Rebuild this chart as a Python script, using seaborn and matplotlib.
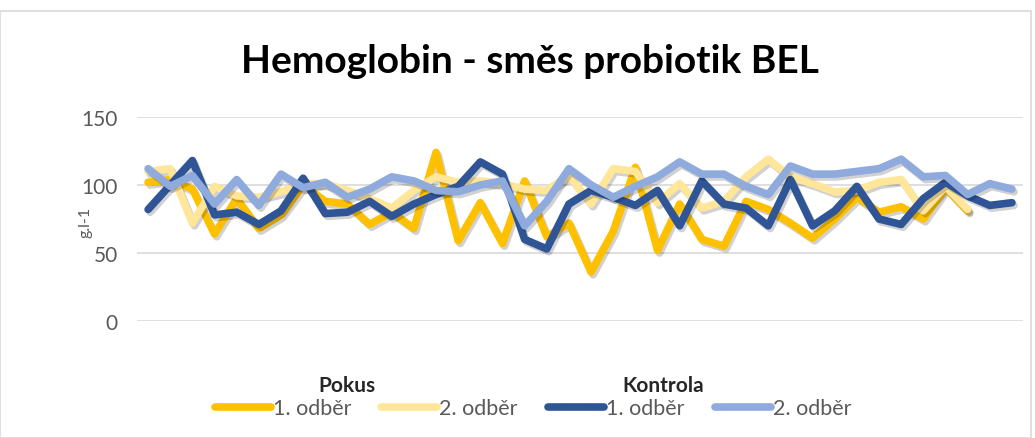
import numpy as np
import pandas as pd
import matplotlib
matplotlib.use("Agg")
import matplotlib.pyplot as plt
import matplotlib.patheffects as pe
from matplotlib.lines import Line2D
from matplotlib.patches import Rectangle
import seaborn as sns

# hodnoty (g/l), 40 zvirat
pokus_1 = [102, 104, 97, 64, 90, 68, 78, 100, 88, 86, 71, 80, 68, 124, 59, 87, 57, 103, 62, 72,
           36, 66, 113, 52, 86, 60, 55, 88, 82, 72, 61, 75, 91, 80, 84, 75, 98, 81]
pokus_2 = [110, 112, 72, 99, 92, 91, 95, 101, 101, 96, 90, 83, 96, 106, 102, 103, 101, 97, 96, 107,
           86, 112, 110, 87, 101, 83, 88, 106, 119, 106, 101, 95, 96, 102, 104, 81, 99, 82]
kontrola_1 = [82, 100, 118, 78, 80, 71, 81, 105, 79, 80, 88, 77, 86, 93, 99, 117, 108, 60, 53, 86,
              96, 91, 85, 96, 70, 103, 86, 83, 70, 104, 70, 81, 99, 75, 71, 90, 102, 92, 85, 87]
kontrola_2 = [112, 99, 107, 86, 104, 85, 108, 98, 102, 91, 97, 106, 103, 96, 95, 100, 103, 70, 88, 112,
              100, 91, 99, 106, 117, 108, 108, 99, 93, 114, 108, 108, 110, 112, 119, 106, 107, 93, 101, 97]

series = ["Pokus 1. odběr", "Pokus 2. odběr", "Kontrola 1. odběr", "Kontrola 2. odběr"]
colors = ["#FFC000", "#FFE699", "#2F5597", "#8FAADC"]
y_ticks = [0, 50, 100, 150]

frames = []
for name, vals in zip(series, [pokus_1, pokus_2, kontrola_1, kontrola_2]):
    frames.append(pd.DataFrame({"zvire": np.arange(len(vals)), "hodnota": vals, "serie": name}))
df = pd.concat(frames, ignore_index=True)

sns.set_style("white")
plt.rcParams["font.family"] = ["Lato", "DejaVu Sans"]

fig = plt.figure(figsize=(10.35, 4.39), dpi=100)
ax = fig.add_axes([0.1324, 0.2665, 0.856, 0.4647])

sns.lineplot(data=df, x="zvire", y="hodnota", hue="serie", hue_order=series,
             palette=colors, linewidth=5.5, ax=ax, legend=False, sort=False)
for ln in ax.get_lines():
    ln.set_solid_joinstyle("round")
    ln.set_solid_capstyle("round")
    ln.set_path_effects([pe.SimpleLineShadow(offset=(1.5, -2), shadow_color="#000000", alpha=0.18),
                         pe.Normal()])

ax.set_xlim(-0.5, 39.5)
ax.set_ylim(0, 150)
ax.set_yticks(y_ticks)
ax.set_xticks([])
ax.yaxis.grid(True, color="#D9D9D9", linewidth=1.2)
ax.set_axisbelow(True)
for s in ax.spines.values():
    s.set_visible(False)
ax.tick_params(axis="y", length=0, labelsize=15, labelcolor="#595959", pad=14)
ax.set_xlabel("")
ax.set_ylabel("g.l-1", fontsize=11.5, color="#595959")
ax.yaxis.set_label_coords(-0.05, 0.49)

fig.text(0.512, 0.86, "Hemoglobin - směs probiotik BEL", ha="center", va="center",
         fontsize=28, fontweight="bold", color="#000000")

# legenda
handles = [Line2D([0], [0], color=c, linewidth=5.5, solid_capstyle="round") for c in colors]
labels = ["1. odběr", "2. odběr", "1. odběr", "2. odběr"]
fig.legend(handles, labels, loc="center", bbox_to_anchor=(0.515, 0.068), ncol=4, frameon=False,
           fontsize=15.5, handlelength=2.6, handletextpad=0.1, columnspacing=1.4,
           labelcolor="#595959")
fig.text(0.335, 0.12, "Pokus", ha="center", va="center", fontsize=15, fontweight="bold")
fig.text(0.641, 0.12, "Kontrola", ha="center", va="center", fontsize=15, fontweight="bold")

fig.patches.append(Rectangle((0.0, 0.0), 0.996, 0.972, transform=fig.transFigure,
                             fill=False, edgecolor="#D9D9D9", linewidth=1.2))

fig.savefig("out.png", dpi=100)
